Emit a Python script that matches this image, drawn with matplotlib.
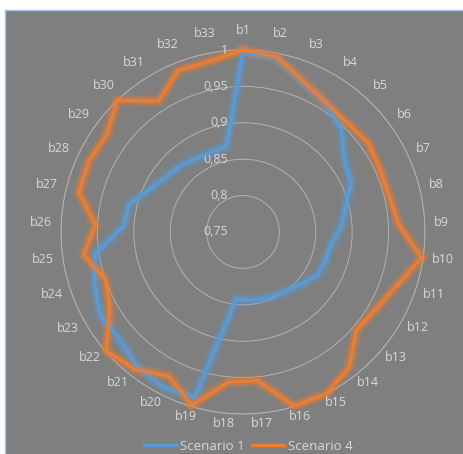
import numpy as np
import matplotlib
matplotlib.use("Agg")
import matplotlib.pyplot as plt
from matplotlib.patches import Rectangle
from matplotlib.lines import Line2D

# --- data ---
categories = ["b%d" % i for i in range(1, 34)]
scenario_1 = [0.997, 0.994, 0.972, 0.96, 0.946, 0.921, 0.913, 0.895, 0.885, 0.872,
              0.870, 0.868, 0.858, 0.851, 0.848, 0.846, 0.844, 0.842, 0.987, 0.99,
              0.985, 0.975, 0.977, 0.966, 0.955, 0.914, 0.911, 0.891, 0.880, 0.875,
              0.870, 0.868, 0.870]
scenario_4 = [1.0, 0.995, 0.973, 0.961, 0.957, 0.961, 0.957, 0.957, 0.964, 0.998,
              0.974, 0.961, 0.956, 0.986, 1.0, 0.999, 0.955, 0.957, 0.998, 0.973,
              0.99, 0.999, 0.961, 0.950, 0.971, 0.953, 0.982, 0.983, 0.980, 1.0,
              0.964, 0.989, 0.989]
r_ticks = [0.75, 0.8, 0.85, 0.9, 0.95, 1.0]
r_labels = ["0,75", "0,8", "0,85", "0,9", "0,95", "1"]
series_names = ["Scenario 1", "Scenario 4"]

BG = "#7f7f7f"
TXT = "#d9d9d9"
GRID = "#b3b3b3"
BLUE = "#5b9bd5"
ORANGE = "#ed7d31"
FONT = "Open Sans"

W, H = 464, 454
fig = plt.figure(figsize=(W / 100, H / 100), dpi=100, facecolor="white")

# gray chart area with a light blue frame
fig.patches.append(Rectangle((5 / W, -0.01), 1.0, (H - 10) / H + 0.01,
                             transform=fig.transFigure, facecolor=BG,
                             edgecolor="#9dc3e6", lw=1.0, zorder=-5))

cx, cy, R = 243, 232, 182
ax = fig.add_axes([(cx - R) / W, (H - cy - R) / H, 2 * R / W, 2 * R / H],
                  projection="polar")
ax.set_zorder(2)
ax.set_facecolor("none")
ax.set_theta_zero_location("N")
ax.set_theta_direction(-1)
ax.set_ylim(0.75, 1.0)

n = len(categories)
theta = np.linspace(0, 2 * np.pi, n, endpoint=False)

ax.set_xticks(theta)
ax.set_xticklabels([])
ax.xaxis.grid(False)
ax.set_yticks(r_ticks[1:])
ax.set_yticklabels([])
ax.yaxis.grid(True, color=GRID, lw=0.7)
ax.spines["polar"].set_visible(False)
ax.tick_params(length=0)

# outer ring (grid at ylim top may be hidden)
tt = np.linspace(0, 2 * np.pi, 400)
ax.plot(tt, np.full_like(tt, 1.0), color=GRID, lw=0.7, clip_on=False, zorder=1)

for vals, col in [(scenario_1, BLUE), (scenario_4, ORANGE)]:
    th = np.append(theta, theta[0])
    v = np.append(vals, vals[0])
    for lw, a in [(9, 0.15), (7, 0.2), (5, 0.3)]:
        ax.plot(th, v, color=col, lw=lw, alpha=a, solid_joinstyle="miter",
                clip_on=False, zorder=3)
    ax.plot(th, v, color=col, lw=2.2, solid_joinstyle="miter", clip_on=False, zorder=4)

# category labels: placed like excel, box edge a fixed gap off the outer ring
renderer = fig.canvas.get_renderer()
px2pt = 72 / 100
for t, lab in zip(theta, categories):
    s, c = np.sin(t), np.cos(t)
    txt = ax.annotate(lab, xy=(t, 1.0), xytext=(0, 0), textcoords="offset points",
                      ha="center", va="center", color=TXT, fontsize=9,
                      family=FONT, annotation_clip=False)
    w = txt.get_window_extent(renderer).width
    gap, h = 9, 12
    dx = s * gap + s * w / 2
    dy = c * gap + c * h / 2 + 5 * abs(c)
    txt.xyann = (dx * px2pt, dy * px2pt)

for r, lab in zip(r_ticks, r_labels):
    ax.annotate(lab, xy=(0, r), xycoords="data", xytext=(-11, 0),
                textcoords="offset points", ha="right", va="center",
                color=TXT, fontsize=9, family=FONT)

handles = [Line2D([], [], color=BLUE, lw=2.5), Line2D([], [], color=ORANGE, lw=2.5)]
fig.legend(handles, series_names, loc="center", bbox_to_anchor=(0.535, 1 - 446 / H),
           ncol=2, frameon=False, labelcolor=TXT, handlelength=2.4,
           handletextpad=0.3, columnspacing=0.6, prop={"family": FONT, "size": 9.5})

fig.savefig("out.png", dpi=100, facecolor="white")
